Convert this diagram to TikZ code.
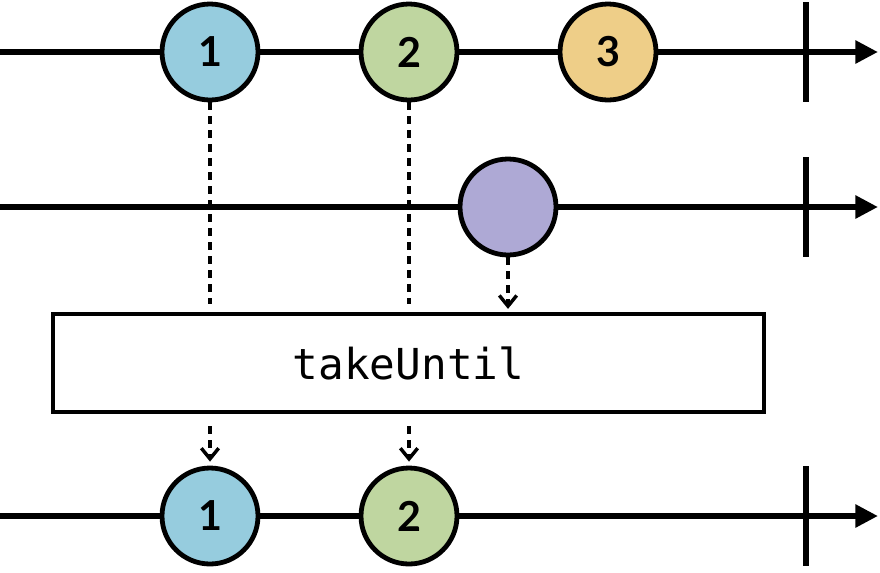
\documentclass[tikz,border=0pt]{standalone}
\usepackage{fontspec}
\setmonofont{DejaVu Sans Mono}
\newfontfamily\marblefont{Lato}
\definecolor{marbleblue}{RGB}{150,204,222}
\definecolor{marblegreen}{RGB}{191,214,160}
\definecolor{marbleorange}{RGB}{238,206,136}
\definecolor{marblepurple}{RGB}{174,169,213}
\usetikzlibrary{arrows.meta,positioning,shadows}

\tikzset{
  timeline/.style={line width=5pt,-{Triangle[length=17pt,width=16.5pt]}},
  endtick/.style={line width=5pt},
  marble/.style={circle,draw,line width=3.6pt,minimum size=72pt,inner sep=0pt,
    font=\marblefont\bfseries\fontsize{31}{31}\selectfont,
    drop shadow={opacity=0.2,shadow xshift=1pt,shadow yshift=-1.5pt}},
  dropline/.style={line width=3.2pt,dash pattern=on 6pt off 4.5pt},
  droparrow/.style={dropline,-{Straight Barb[length=8pt,width=13pt,line width=2.6pt]}},
  opbox/.style={draw,line width=3.2pt,minimum width=533pt,minimum height=74pt,
    font=\ttfamily\fontsize{32}{32}\selectfont}
}

\begin{document}
\begin{tikzpicture}[x=0.75pt,y=-0.75pt]
  \useasboundingbox (0,0) rectangle (880,572);

  % source timeline
  \coordinate (srcstart) at (0,52);
  \coordinate (srcend) at (878,52);
  \draw[timeline] (srcstart) -- (srcend);
  \draw[endtick] (806,2) -- (806,102);
  \node[marble,fill=marbleblue] (s1) at (210,52) {1};
  \node[marble,fill=marblegreen] (s2) at (409,52) {2};
  \node[marble,fill=marbleorange] (s3) at (608,52) {3};

  % notifier timeline
  \coordinate (notstart) at (0,207);
  \coordinate (notend) at (878,207);
  \draw[timeline] (notstart) -- (notend);
  \draw[endtick] (806,157) -- (806,257);
  \node[marble,fill=marblepurple] (n1) at (508,207) {};

  % operator
  \node[opbox] (op) at (408.5,363) {takeUntil};
  \draw[dropline,shorten >=6pt] (s1.south) -- (s1.south |- op.north);
  \draw[dropline,shorten >=6pt] (s2.south) -- (s2.south |- op.north);
  \draw[droparrow,shorten >=2pt] (n1.south) -- (n1.south |- op.north);

  % result timeline
  \coordinate (resstart) at (0,516);
  \coordinate (resend) at (878,516);
  \draw[timeline] (resstart) -- (resend);
  \draw[endtick] (806,466) -- (806,566);
  \node[marble,fill=marbleblue] (r1) at (210,516) {1};
  \node[marble,fill=marblegreen] (r2) at (409,516) {2};
  \draw[droparrow,shorten <=9pt,shorten >=3pt] (op.south -| r1) -- (r1.north);
  \draw[droparrow,shorten <=9pt,shorten >=3pt] (op.south -| r2) -- (r2.north);
\end{tikzpicture}
\end{document}
